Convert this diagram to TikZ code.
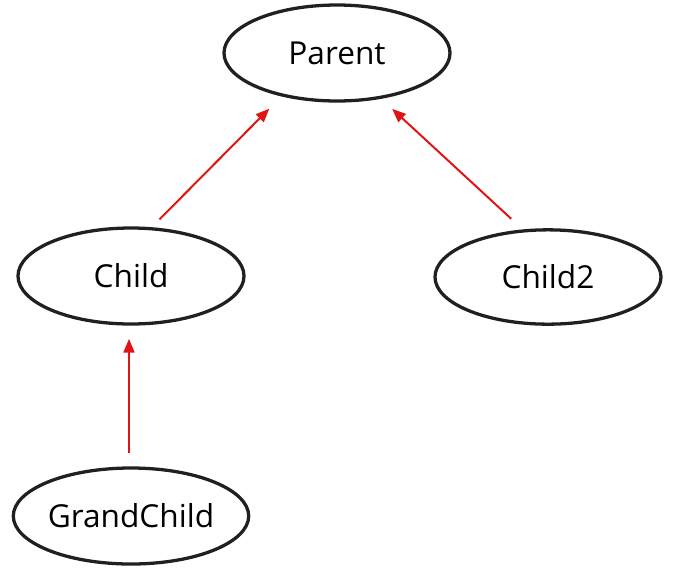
\documentclass[tikz,border=0pt]{standalone}
\usepackage[usenames,dvipsnames]{xcolor}
\usepackage{fontspec}
\setmainfont{Open Sans}
\usepackage{tikz}
\usetikzlibrary{shapes.geometric,arrows}

\begin{document}
\begin{tikzpicture}[x=0.03cm,y=-0.03cm]
\definecolor{pLineColor}{RGB}{225,20,20}
\tikzset{cls/.style={draw=Black,ellipse,line width=2.8pt,minimum width=6.78cm,minimum height=2.88cm,inner sep=0pt,font=\fontsize{27}{31}\selectfont},
  inh/.style={->,>=triangle 45,line width=1.7pt,color=pLineColor}}
\useasboundingbox (0,0) rectangle (683,580);
\node[cls] (Parent) at (337,53) {Parent};
\node[cls] (Child) at (131,276) {Child};
\node[cls,minimum height=2.83cm] (Child2) at (548,277) {Child2};
\node[cls] (GrandChild) at (131,516) {GrandChild};
\draw[inh,shorten <=0.33cm,shorten >=0.52cm] (Child.67) -- (Parent.218.6);
\draw[inh,shorten <=0.47cm,shorten >=0.45cm] (Child2.118) -- (Parent.314.5);
\draw[inh,shorten <=0.4cm,shorten >=0.4cm] ([xshift=-0.06cm]GrandChild.north) -- ([xshift=-0.06cm]Child.south);
\end{tikzpicture}
\end{document}
